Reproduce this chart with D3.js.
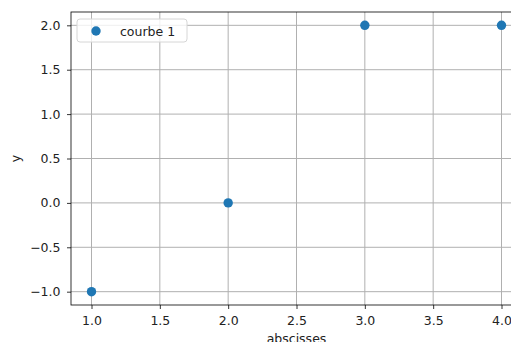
<!DOCTYPE html>
<html>
<head>
<meta charset="utf-8">
<script src="https://cdn.jsdelivr.net/npm/d3@7"></script>
<style>
  body { margin: 0; background: #fff; }
  svg { display: block; font-family: "DejaVu Sans", sans-serif; }
</style>
</head>
<body>
<svg id="chart"></svg>
<script>
// data
var xValues = [1, 2, 3, 4];
var yValues = [-1, 0, 2, 2];
var xTicks = [1.0, 1.5, 2.0, 2.5, 3.0, 3.5, 4.0];
var yTicks = [-1.0, -0.5, 0.0, 0.5, 1.0, 1.5, 2.0];
var seriesName = 'courbe 1';

var svgWidth = 511,
    svgHeight = 342,
    margin = {top: 12, left: 71, right: -11, bottom: 37};

var width = svgWidth - margin.left - margin.right,
    height = svgHeight - margin.top - margin.bottom;

var fontSize = '12.5px';

var svg = d3.select('#chart')
    .attr('width', svgWidth)
    .attr('height', svgHeight);

// matplotlib style 5% padding
var x = d3.scaleLinear().domain([0.85, 4.15]).range([0, width]);
var y = d3.scaleLinear().domain([-1.15, 2.15]).range([height, 0]);

var g = svg.append('g')
    .attr('transform', 'translate(' + margin.left + ',' + margin.top + ')');

// grid
g.selectAll('.vgrid').data(xTicks).enter().append('line')
    .attr('x1', function(d) { return x(d); })
    .attr('x2', function(d) { return x(d); })
    .attr('y1', 0).attr('y2', height)
    .attr('stroke', '#b0b0b0').attr('stroke-width', 1);
g.selectAll('.hgrid').data(yTicks).enter().append('line')
    .attr('x1', 0).attr('x2', width)
    .attr('y1', function(d) { return y(d); })
    .attr('y2', function(d) { return y(d); })
    .attr('stroke', '#b0b0b0').attr('stroke-width', 1);

function fmt(d) { return d3.format('.1f')(d).replace('-', '\u2212'); }

// axes
var xAxis = g.append('g')
    .attr('transform', 'translate(0,' + height + ')')
    .call(d3.axisBottom(x).tickValues(xTicks).tickFormat(fmt).tickSize(4).tickPadding(7.5));
var yAxis = g.append('g')
    .call(d3.axisLeft(y).tickValues(yTicks).tickFormat(fmt).tickSize(4).tickPadding(6.5));

[xAxis, yAxis].forEach(function(a) {
    a.select('.domain').remove();
    a.selectAll('line').attr('stroke', '#000').attr('stroke-width', 0.8);
    a.selectAll('text').attr('fill', '#222').style('font-size', fontSize)
        .style('font-family', '"DejaVu Sans", sans-serif');
});

// spines
g.append('rect')
    .attr('x', 0).attr('y', 0)
    .attr('width', width).attr('height', height)
    .attr('fill', 'none').attr('stroke', '#000').attr('stroke-width', 0.8);

// points
g.selectAll('.dot').data(xValues).enter().append('circle')
    .attr('cx', function(d) { return x(d); })
    .attr('cy', function(d, i) { return y(yValues[i]); })
    .attr('r', 4.7)
    .attr('fill', '#1f77b4');

// labels
svg.append('text')
    .attr('x', margin.left + x(2.5))
    .attr('y', 343)
    .attr('text-anchor', 'middle')
    .style('font-size', fontSize)
    .attr('fill', '#222')
    .text('abscisses');

svg.append('text')
    .attr('transform', 'translate(20,' + (margin.top + height / 2) + ') rotate(-90)')
    .attr('text-anchor', 'middle')
    .style('font-size', fontSize)
    .attr('fill', '#222')
    .text('y');

// legend
var legend = g.append('g').attr('transform', 'translate(6,7)');
legend.append('rect')
    .attr('width', 110).attr('height', 23)
    .attr('rx', 3)
    .attr('fill', 'rgba(255,255,255,0.8)')
    .attr('stroke', '#d6d6d6').attr('stroke-width', 1);
legend.append('circle')
    .attr('cx', 19).attr('cy', 12)
    .attr('r', 4.7).attr('fill', '#1f77b4');
legend.append('text')
    .attr('x', 43).attr('y', 16.5)
    .style('font-size', fontSize)
    .attr('fill', '#222')
    .text(seriesName);
</script>
</body>
</html>
